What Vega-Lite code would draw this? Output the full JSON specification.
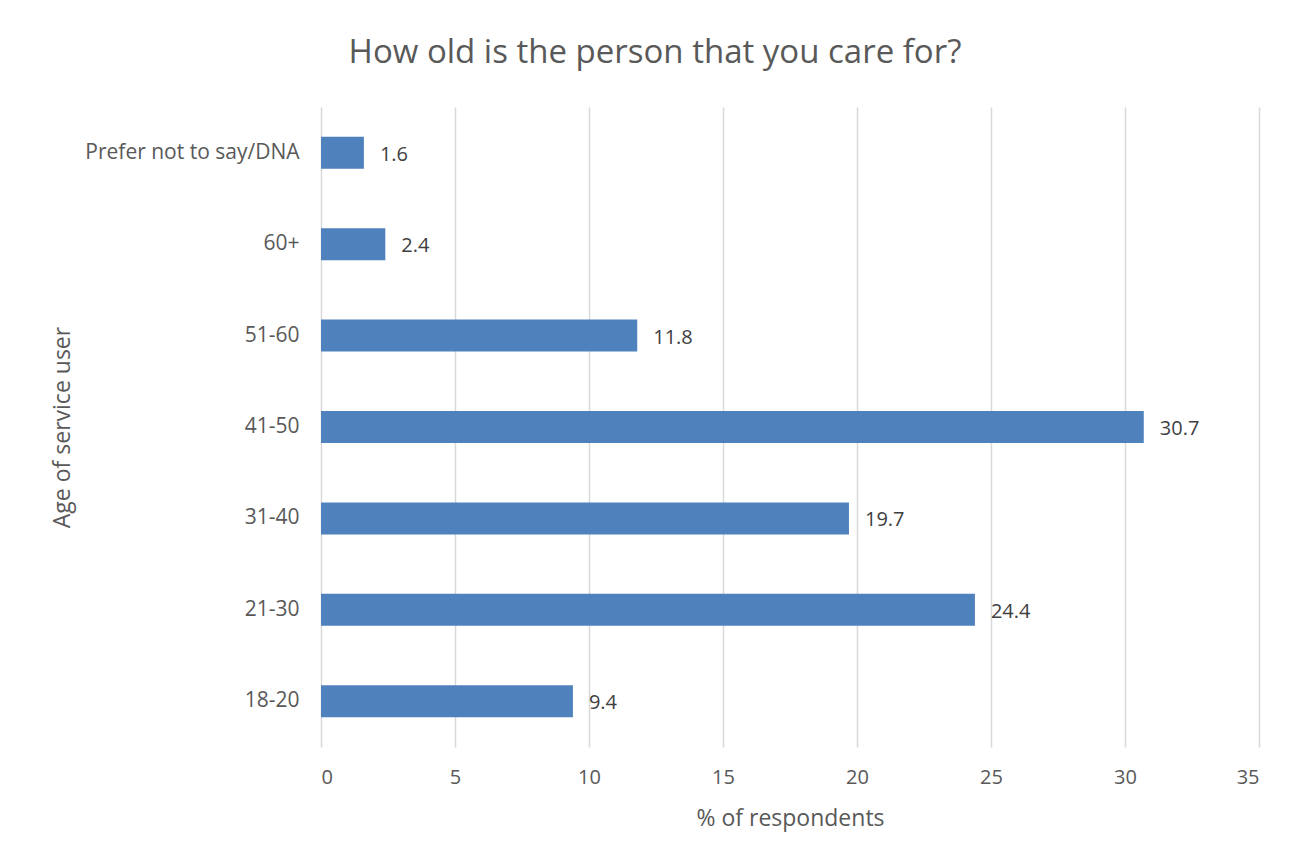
{
  "$schema": "https://vega.github.io/schema/vega-lite/v6.json",
  "autosize": "none",
  "width": 938,
  "height": 640,
  "padding": {"left": 321, "top": 107, "right": 42, "bottom": 111},
  "background": "white",
  "title": {
    "text": "How old is the person that you care for?",
    "anchor": "middle",
    "frame": "group",
    "dx": -135,
    "offset": 37,
    "fontSize": 33,
    "font": "Open Sans",
    "fontWeight": "normal",
    "color": "#595959"
  },
  "data": {
    "values": [
      {"age": "Prefer not to say/DNA", "pct": 1.6},
      {"age": "60+", "pct": 2.4},
      {"age": "51-60", "pct": 11.8},
      {"age": "41-50", "pct": 30.7},
      {"age": "31-40", "pct": 19.7},
      {"age": "21-30", "pct": 24.4},
      {"age": "18-20", "pct": 9.4}
    ]
  },
  "encoding": {
    "y": {
      "field": "age",
      "type": "nominal",
      "sort": ["Prefer not to say/DNA", "60+", "51-60", "41-50", "31-40", "21-30", "18-20"],
      "scale": {"paddingInner": 0.65, "paddingOuter": 0.325},
      "axis": {
        "title": "Age of service user",
        "titleFont": "Open Sans",
        "titleFontSize": 23,
        "titleFontWeight": "normal",
        "titleColor": "#595959",
        "titleX": -259,
        "titleY": 320,
        "titleAngle": 270,
        "titleAlign": "center",
        "titleBaseline": "middle",
        "labelFont": "Open Sans",
        "labelFontSize": 21,
        "labelColor": "#595959",
        "labelPadding": 22,
        "labelLimit": 300,
        "ticks": false,
        "tickSize": 0,
        "domain": false,
        "grid": false
      }
    },
    "x": {
      "field": "pct",
      "type": "quantitative",
      "scale": {"domain": [0, 35], "nice": false},
      "axis": {
        "values": [0, 5, 10, 15, 20, 25, 30, 35],
        "title": "% of respondents",
        "titleFont": "Open Sans",
        "titleFontSize": 23,
        "titleFontWeight": "normal",
        "titleColor": "#595959",
        "titleY": 71,
        "titleBaseline": "middle",
        "labelFont": "Open Sans",
        "labelFontSize": 20,
        "labelColor": "#595959",
        "labelPadding": 20,
        "ticks": false,
        "tickSize": 0,
        "domain": false,
        "grid": true,
        "gridColor": "#d9d9d9",
        "gridWidth": 1.5
      }
    }
  },
  "layer": [
    {"mark": {"type": "bar", "color": "#4f81bd"}},
    {
      "mark": {"type": "text", "align": "left", "baseline": "middle", "dx": 16, "dy": 2, "font": "Open Sans", "fontSize": 20, "color": "#404040"},
      "encoding": {"text": {"field": "pct", "type": "quantitative", "format": ".1f"}}
    }
  ],
  "config": {"view": {"stroke": null}}
}
